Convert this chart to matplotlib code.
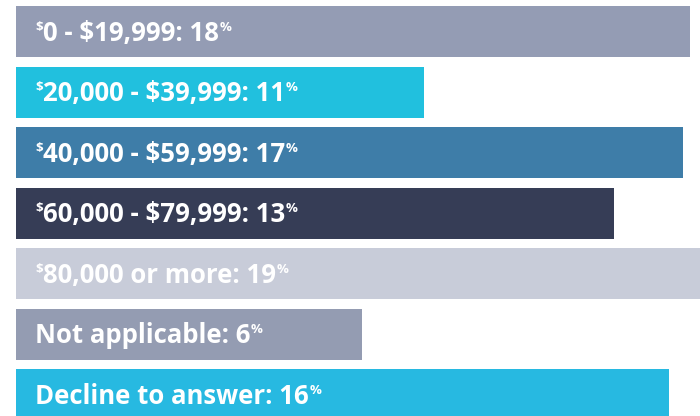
import matplotlib
matplotlib.use("Agg")
import matplotlib.pyplot as plt
from matplotlib.transforms import offset_copy

categories = ["$0 - $19,999", "$20,000 - $39,999", "$40,000 - $59,999",
              "$60,000 - $79,999", "$80,000 or more", "Not applicable",
              "Decline to answer"]
percents = [18, 11, 17, 13, 19, 6, 16]
# bar lengths as drawn in the infographic (pixel-like units)
bar_lengths = [674, 408, 667, 598, 700, 346, 653]
colors = ["#949CB4", "#21C0DE", "#3E7DA8", "#363D56", "#C8CCD9", "#949CB2", "#27B9E1"]

FONT = "Open Sans"
MAIN = 18.5
SUP = 9.5
CAP = 0.714  # cap height ratio

fig = plt.figure(figsize=(7.0, 4.16), dpi=100)
ax = fig.add_axes([16/700, 0, 684/700, 1])
ax.set_xlim(0, 684)
ax.set_ylim(6.355, -0.521)
ax.axis("off")

ypos = list(range(len(categories)))
ax.barh(ypos, bar_lengths, height=51/60.5, color=colors, left=0)

renderer = fig.canvas.get_renderer()
px = fig.dpi / 72.0

def pieces(cat, p):
    out = []
    if cat.startswith("$"):
        out.append(("$", True))
        out.append((cat[1:] + f": {p}", False))
    else:
        out.append((cat + f": {p}", False))
    out.append(("%", True))
    return out

cap_main = CAP * MAIN * px
cap_sup = CAP * SUP * px

for y, cat, p in zip(ypos, categories, percents):
    dx = 0.0
    base_dy = -cap_main / 2.0  # baseline relative to bar center (dots, upward positive)
    for txt, sup in pieces(cat, p):
        size = SUP if sup else MAIN
        dy = base_dy + (cap_main - cap_sup + 1.0 if sup else 0.0)
        tr = offset_copy(ax.transData, fig=fig, x=dx, y=dy, units='dots')
        t = ax.text(19, y, txt, color="white", fontsize=size, fontfamily=FONT,
                    fontweight="bold", va="baseline", ha="left", transform=tr)
        w = t.get_window_extent(renderer).width
        dx += w + (0.5 if sup else 0.5)

fig.savefig("out.png", dpi=100)
